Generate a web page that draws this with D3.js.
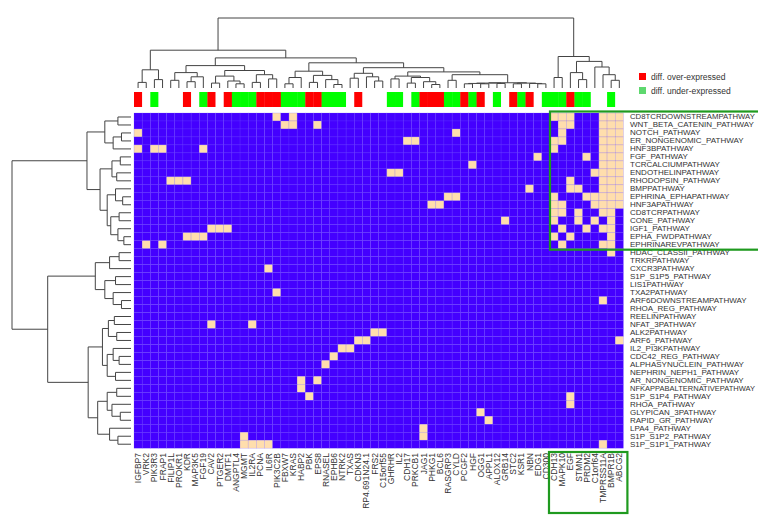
<!DOCTYPE html>
<html>
<head>
<meta charset="utf-8">
<script src="https://cdn.jsdelivr.net/npm/d3@7"></script>
<style>
  body { margin: 0; background: #fff; }
  svg { display: block; font-family: "Liberation Sans", Arial, sans-serif; }
</style>
</head>
<body>
<div id="chart"></div>
<script>
// genes (columns), in dendrogram order
const genes = ["IGFBP7","VRK2","PIK3R3","FRAP1","FILIP1L","PROKR1","KDR","MAP3K5","FGF19","CAV2",
  "PTGER2","DMTF1","ANGPTL4","MGMT","IL2RA","PCNA","IL6R","PIK3C2B","FBXW7","KRAS",
  "HABP2","PBK","EPS8","RNASEL","EPHB6","NTRK2","TXAS","CDKN3","RP4.691N24.1","FRS2",
  "C15orf55","GHRHR","IL2","CDH17","PRKCB1","JAG1","PHKG1","BCL6","RASGRP3","CYLD",
  "PCGF2","HGF","OGG1","APPL1","ALOX12","GRB14","STC2","KSR1","NBN","EDG1",
  "CD300","CDH13","MAPK10","EGF","STMN1","PRDM2","C1orf64","TMPRSS11A","BMPR1B","ABCG2"];

// pathways (rows), top to bottom
const pathways = ["CD8TCRDOWNSTREAMPATHWAY","WNT_BETA_CATENIN_PATHWAY","NOTCH_PATHWAY","ER_NONGENOMIC_PATHWAY",
  "HNF3BPATHWAY","FGF_PATHWAY","TCRCALCIUMPATHWAY","ENDOTHELINPATHWAY","RHODOPSIN_PATHWAY","BMPPATHWAY",
  "EPHRINA_EPHAPATHWAY","HNF3APATHWAY","CD8TCRPATHWAY","CONE_PATHWAY","IGF1_PATHWAY","EPHA_FWDPATHWAY",
  "EPHRINAREVPATHWAY","HDAC_CLASSII_PATHWAY","TRKRPATHWAY","CXCR3PATHWAY","S1P_S1P5_PATHWAY","LIS1PATHWAY",
  "TXA2PATHWAY","ARF6DOWNSTREAMPATHWAY","RHOA_REG_PATHWAY","REELINPATHWAY","NFAT_3PATHWAY","ALK2PATHWAY",
  "ARF6_PATHWAY","IL2_PI3KPATHWAY","CDC42_REG_PATHWAY","ALPHASYNUCLEIN_PATHWAY","NEPHRIN_NEPH1_PATHWAY",
  "AR_NONGENOMIC_PATHWAY","NFKAPPABALTERNATIVEPATHWAY","S1P_S1P4_PATHWAY","RHOA_PATHWAY","GLYPICAN_3PATHWAY",
  "RAPID_GR_PATHWAY","LPA4_PATHWAY","S1P_S1P2_PATHWAY","S1P_S1P1_PATHWAY"];

// colour bar above the heatmap: "up" = over-expressed, "down" = under-expressed
const geneStatus = ["up","","down","","","","up","","down","up",
  "","up","down","down","down","up","up","up","down","down",
  "down","up","up","down","down","down","","up","","",
  "","down","down","","down","up","up","up","down","down",
  "up","down","up","","down","","up","down","up","",
  "down","down","down","up","down","down","","","down",""];

// genes belonging to each pathway (column indexes), one list per row
const hits = [
  [17,19,51,52,53,57,58,59],
  [18,19,22,52,53,57,58,59],
  [0,39,52,57,58,59],
  [33,34,51,52,57,58,59],
  [0,2,3,8,51,57,58,59],
  [49,55,57,58,59],
  [41,57,58,59],
  [31,32,56,57,58,59],
  [4,5,6,53,57,58,59],
  [48,53,54,57,58,59],
  [38,39,51,55,56,57,58,59],
  [36,37,51,52,56,57,58,59],
  [51,52,54,57,58],
  [45,51,54,56,58],
  [9,10,11,52,55,57,58],
  [6,7,8,51,53,58],
  [1,3,52,57,58],
  [58],
  [],
  [16],
  [],
  [],
  [17],
  [57],
  [],
  [],
  [9,14],
  [29,30],
  [27,28,59],
  [25,26],
  [24],
  [23],
  [],
  [20,22],
  [20],
  [21,53],
  [53],
  [42],
  [43],
  [35],
  [13,35],
  [13,14,15,16,57]
];

// dendrograms: [height, left, right], leaves are indexes
const geneTree = [10,
  [5.4,
    [2.6, [0.8,0,1], [1.2,2,3]],
    [4.3,
      [3.2,
        [2.2, [1.1,4,5], [1.6,[0.9,6,7],8]],
        [2.5, [1.7,[0.7,9,10],[1.0,11,[0.6,12,13]]], [1.9,[0.8,14,15],[1.3,16,17]]]
      ],
      [3.6,
        [2.4, [1.5,[0.6,18,19],20], [1.8,[0.8,21,22],[1.2,23,[0.5,24,25]]]],
        [2.9,
          [2.1, [1.4,26,27], [1.6,28,[1.0,29,30]]],
          [2.3,
            [1.7, [1.3,31,32], [1.5,[0.7,33,34],[0.9,35,[0.5,36,37]]]],
            [1.9, [1.1,38,39], [0.75,[0.7,[0.65,[0.6,40,41],[0.6,42,43]],[0.65,44,45]],[0.7,[0.6,46,47],[0.65,48,[0.6,49,50]]]]]
          ]
        ]
      ]
    ]
  ],
  [4.5,
    [1.5,51,52],
    [3.8,
      [2.2,53,[1.2,54,55]],
      [3.0,56,[1.9,57,[1.1,58,59]]]
    ]
  ]
];

const pathwayTree = [10,
  [3.7,
    [2.2, [1.1,0,1], [1.5,[0.8,2,3],4]],
    [2.6, [1.6,[0.9,5,6],[1.2,7,8]], [2.0,[1.3,9,[0.7,10,11]],[1.7,[1.0,12,13],[1.1,14,[0.6,15,16]]]]]
  ],
  [7.0,
    [3.0, [1.8,[1.0,17,18],19], [2.2,[1.3,20,21],[1.5,22,[0.8,23,24]]]],
    [3.6,
      [2.4, [1.9,[1.4,25,26],[1.2,27,28]], [2.0,[1.5,29,[1.0,30,31]],[1.3,32,33]]],
      [2.8, [2.0,[1.2,34,35],[1.6,36,[0.9,37,38]]], [1.8,39,[1.1,40,41]]]
    ]
  ]
];

const legendLabels = ["diff. over-expressed", "diff. under-expressed"];
const legendColors = ["#FF0000", "#5ED86E"];

const width = 758, height = 516;

const svg = d3.select("#chart").append("svg")
  .attr("width", width)
  .attr("height", height);

// scales
const x = d3.scaleBand().domain(d3.range(genes.length)).range([134, 623.4]);
const y = d3.scaleBand().domain(d3.range(pathways.length)).range([113, 448.2]);
const cellColor = d3.scaleOrdinal().domain([0, 1]).range(["#4400FF", "#FFDEAD"]);
const statusColor = d3.scaleOrdinal().domain(["up", "down", ""]).range(["#FF0000", "#00FF00", "#FFFFFF"]);
const topH = d3.scaleLinear().domain([0, 10]).range([88, 18]);
const leftH = d3.scaleLinear().domain([0, 10]).range([131, 12]);

// heatmap cells
const cells = [];
pathways.forEach((p, j) => {
  genes.forEach((g, i) => {
    cells.push({ row: j, col: i, v: hits[j].includes(i) ? 1 : 0 });
  });
});

svg.append("g")
  .selectAll("rect")
  .data(cells)
  .join("rect")
  .attr("x", d => x(d.col))
  .attr("y", d => y(d.row))
  .attr("width", x.bandwidth())
  .attr("height", y.bandwidth())
  .attr("fill", d => cellColor(d.v))
  .attr("stroke", "#6b4cff")
  .attr("stroke-opacity", 0.4)
  .attr("stroke-width", 0.5);

// colour bar
svg.append("g")
  .selectAll("rect")
  .data(geneStatus)
  .join("rect")
  .attr("x", (d, i) => x(i))
  .attr("y", 92)
  .attr("width", x.bandwidth() + 0.3)
  .attr("height", 15)
  .attr("fill", d => statusColor(d));

// dendrograms
function drawTree(tree, leafPos, hScale, vertical) {
  const paths = [];
  function walk(node) {
    if (typeof node === "number") return { p: leafPos(node), h: 0 };
    const [h, a, b] = node;
    const A = walk(a), B = walk(b);
    if (vertical) {
      paths.push(`M${A.p},${hScale(A.h)}V${hScale(h)}H${B.p}V${hScale(B.h)}`);
    } else {
      paths.push(`M${hScale(A.h)},${A.p}H${hScale(h)}V${B.p}H${hScale(B.h)}`);
    }
    return { p: (A.p + B.p) / 2, h };
  }
  walk(tree);
  svg.append("g")
    .selectAll("path")
    .data(paths)
    .join("path")
    .attr("d", d => d)
    .attr("fill", "none")
    .attr("stroke", "#444")
    .attr("stroke-width", 1);
}

drawTree(geneTree, i => x(i) + x.bandwidth() / 2, topH, true);
drawTree(pathwayTree, j => y(j) + y.bandwidth() / 2, leftH, false);

// row labels (shrink any label that would run past the right edge)
const rowLabelX = 630;
const rowFont = 8;
svg.append("g")
  .selectAll("text")
  .data(pathways)
  .join("text")
  .attr("x", rowLabelX)
  .attr("y", (d, j) => y(j) + y.bandwidth() / 2)
  .attr("dominant-baseline", "central")
  .attr("font-size", rowFont + "px")
  .attr("fill", "#333")
  .text(d => d)
  .each(function () {
    const room = width - rowLabelX - 3;
    const len = this.getComputedTextLength();
    if (len > room) {
      d3.select(this).attr("font-size", (rowFont * room / len).toFixed(2) + "px");
    }
  });

// column labels
svg.append("g")
  .selectAll("text")
  .data(genes)
  .join("text")
  .attr("transform", (d, i) => `translate(${x(i) + x.bandwidth() / 2},453) rotate(-90)`)
  .attr("text-anchor", "end")
  .attr("dominant-baseline", "central")
  .attr("font-size", "8.5px")
  .attr("fill", "#333")
  .text(d => d);

// legend
const legend = svg.append("g");
legendLabels.forEach((lab, k) => {
  legend.append("rect")
    .attr("x", 639)
    .attr("y", 73 + k * 14)
    .attr("width", 7)
    .attr("height", 7)
    .attr("fill", legendColors[k]);
  legend.append("text")
    .attr("x", 651)
    .attr("y", 76.5 + k * 14)
    .attr("dominant-baseline", "central")
    .attr("font-size", "8.5px")
    .attr("fill", "#333")
    .text(lab);
});

// highlight boxes
svg.append("rect")
  .attr("x", x(51))
  .attr("y", 111.5)
  .attr("width", width - x(51) + 5)
  .attr("height", y(17) - 111.5 + 1)
  .attr("fill", "none")
  .attr("stroke", "#1f9a1f")
  .attr("stroke-width", 2.2);

svg.append("rect")
  .attr("x", x(51) - 1)
  .attr("y", 452)
  .attr("width", x(59) + x.bandwidth() - x(51) + 5)
  .attr("height", 61)
  .attr("fill", "none")
  .attr("stroke", "#1f9a1f")
  .attr("stroke-width", 2.2);
</script>
</body>
</html>
